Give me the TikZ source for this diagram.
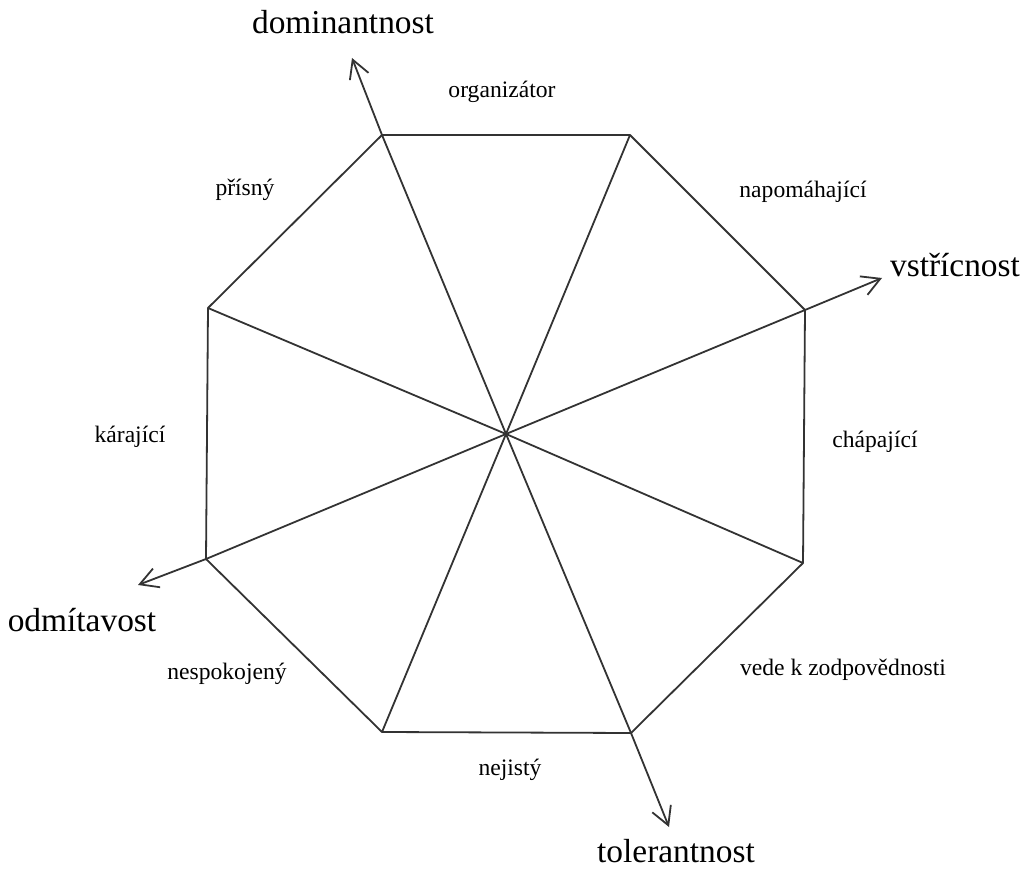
\documentclass[tikz,border=0pt]{standalone}
\usepackage{fontspec}
\setmainfont{Liberation Serif}
\usetikzlibrary{arrows.meta}

\begin{document}
\begin{tikzpicture}[
    x=0.5pt, y=-0.5pt,
    >={Straight Barb[length=9pt, width=10pt]},
    edge/.style={line width=0.9pt, black!80},
    axis/.style={edge, ->},
    trait/.style={font=\fontsize{11.8}{14}\selectfont, inner sep=0pt},
    pole/.style={font=\fontsize{16.7}{20}\selectfont, inner sep=0pt},
]
\useasboundingbox (0,0) rectangle (1027,870);

% ---- Octagon corners and centre ----
\coordinate (c) at (506,434);
\coordinate (v1) at (382,135);
\coordinate (v2) at (630,135);
\coordinate (v3) at (805,310);
\coordinate (v4) at (803,563);
\coordinate (v5) at (631,733);
\coordinate (v6) at (382,732);
\coordinate (v7) at (206,559);
\coordinate (v8) at (208,308);

% ---- Axis ends ----
\coordinate (domtip) at (352,58);
\coordinate (vsttip) at (882,278);
\coordinate (toltip) at (669,827);
\coordinate (odmtip) at (138,585);

% Outline and spokes
\draw[edge, line join=round] (v1) -- (v2) -- (v3) -- (v4) -- (v5) -- (v6) -- (v7) -- (v8) -- cycle;
\foreach \v in {v1,v2,v3,v4,v5,v6,v7,v8}
    \draw[edge] (c) -- (\v);

% Axes continue past the corners
\draw[axis] (v1) -- (domtip);
\draw[axis] (v3) -- (vsttip);
\draw[axis] (v5) -- (toltip);
\draw[axis] (v7) -- (odmtip);

% ---- Poles ----
\node[pole] (dom) at (343,22) {dominantnost};
\node[pole] (vst) at (955,265) {vstřícnost};
\node[pole] (tol) at (676,851) {tolerantnost};
\node[pole] (odm) at (82,620) {odmítavost};

% ---- Traits ----
\node[trait] (org) at (502,92) {organizátor};
\node[trait] (pri) at (245,190) {přísný};
\node[trait] (nap) at (803,192) {napomáhající};
\node[trait] (cha) at (875,442) {chápající};
\node[trait] (kar) at (130,437) {kárající};
\node[trait] (ved) at (843,670) {vede k zodpovědnosti};
\node[trait] (nes) at (227,674) {nespokojený};
\node[trait] (nej) at (510,770) {nejistý};

\end{tikzpicture}
\end{document}
